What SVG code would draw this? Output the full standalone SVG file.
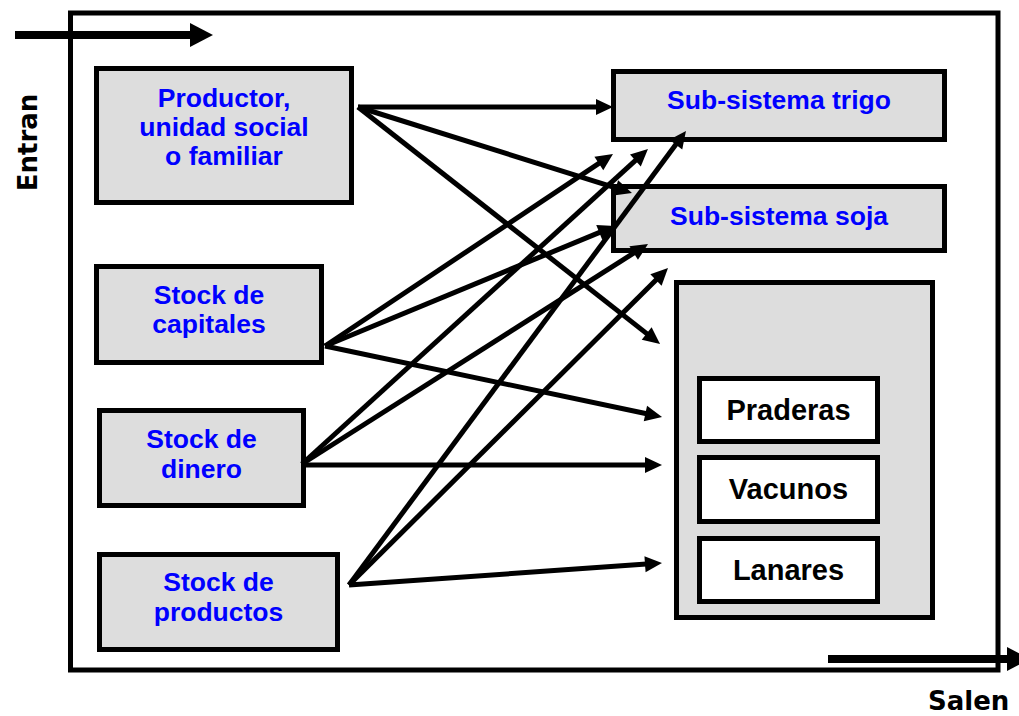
<svg xmlns="http://www.w3.org/2000/svg" width="1019" height="716" viewBox="0 0 1019 716">
  <style>
    .box { fill: #dddddd; stroke: #000; stroke-width: 5; }
    .inner { fill: #ffffff; stroke: #000; stroke-width: 5; }
    .blue { font-family: "Liberation Sans", Arial, sans-serif; font-weight: bold; font-size: 26.5px; fill: #0000ff; text-anchor: middle; }
    .black { font-family: "Liberation Sans", Arial, sans-serif; font-weight: bold; font-size: 29px; fill: #000; text-anchor: middle; }
    .side { font-family: "DejaVu Sans", sans-serif; font-weight: bold; font-size: 26px; fill: #000; }
    .conn { stroke: #000; stroke-width: 5; fill: none; marker-end: url(#head); }
    .flow { stroke: #000; stroke-width: 8; fill: none; }
  </style>
  <defs>
    <marker id="head" markerUnits="userSpaceOnUse" markerWidth="18" markerHeight="16" refX="5" refY="8" orient="auto" overflow="visible">
      <path d="M0,0 L17,8 L0,16 z" fill="#000"/>
    </marker>
  </defs>

  <rect width="1019" height="716" fill="#ffffff"/>

  <!-- system boundary -->
  <rect id="frame" x="70.5" y="13" width="927.5" height="657" fill="none" stroke="#000" stroke-width="5"/>

  <!-- inputs and outputs -->
  <g id="entran">
    <line class="flow" x1="15" y1="35" x2="192" y2="35"/>
    <polygon points="190,23 213,35 190,47" fill="#000"/>
    <text class="side" transform="translate(37,142.5) rotate(-90)" text-anchor="middle">Entran</text>
  </g>
  <g id="salen">
    <line class="flow" x1="828" y1="659" x2="1009" y2="659"/>
    <polygon points="1007,647 1030,659 1007,671" fill="#000"/>
    <text class="side" x="928" y="710">Salen</text>
  </g>

  <!-- sources -->
  <g id="productor">
    <rect class="box" x="96.5" y="68.5" width="255" height="134"/>
    <text class="blue" x="224" y="107">Productor,</text>
    <text class="blue" x="224" y="136">unidad social</text>
    <text class="blue" x="224" y="165">o familiar</text>
  </g>
  <g id="capitales">
    <rect class="box" x="96.5" y="266.5" width="225" height="96"/>
    <text class="blue" x="209" y="304">Stock de</text>
    <text class="blue" x="209" y="333">capitales</text>
  </g>
  <g id="dinero">
    <rect class="box" x="99.5" y="410.5" width="204" height="95"/>
    <text class="blue" x="201.5" y="448">Stock de</text>
    <text class="blue" x="201.5" y="478">dinero</text>
  </g>
  <g id="productos">
    <rect class="box" x="99.5" y="554.5" width="238" height="95"/>
    <text class="blue" x="218.5" y="591">Stock de</text>
    <text class="blue" x="218.5" y="621">productos</text>
  </g>

  <!-- sub-systems -->
  <g id="trigo">
    <rect class="box" x="613.5" y="71.5" width="331" height="68"/>
    <text class="blue" x="779" y="109">Sub-sistema trigo</text>
  </g>
  <g id="soja">
    <rect class="box" x="613.5" y="186.5" width="331" height="64"/>
    <text class="blue" x="779" y="225">Sub-sistema soja</text>
  </g>
  <g id="ganaderia">
    <rect class="box" x="676.5" y="282.5" width="256" height="335"/>
    <g id="praderas">
      <rect class="inner" x="699.5" y="378.5" width="178" height="63"/>
      <text class="black" x="788.5" y="420">Praderas</text>
    </g>
    <g id="vacunos">
      <rect class="inner" x="699.5" y="457.5" width="178" height="64"/>
      <text class="black" x="788.5" y="499">Vacunos</text>
    </g>
    <g id="lanares">
      <rect class="inner" x="699.5" y="538.5" width="178" height="63"/>
      <text class="black" x="788.5" y="580">Lanares</text>
    </g>
  </g>

  <!-- flows between stocks and sub-systems -->
  <g id="connectors">
    <line class="conn" x1="358" y1="107" x2="601" y2="107"/>
    <line class="conn" x1="358" y1="107" x2="620.5" y2="189.4"/>
    <line class="conn" x1="358" y1="107" x2="650.6" y2="336.6"/>

    <line class="conn" x1="325" y1="346" x2="603" y2="160.7"/>
    <line class="conn" x1="325" y1="346" x2="603.9" y2="230.6"/>
    <line class="conn" x1="325" y1="346" x2="650.3" y2="414.5"/>

    <line class="conn" x1="302" y1="464" x2="639.1" y2="157.1"/>
    <line class="conn" x1="302" y1="464" x2="637.9" y2="250.4"/>
    <line class="conn" x1="302" y1="465" x2="650" y2="465"/>

    <line class="conn" x1="349" y1="585" x2="678.8" y2="140.6"/>
    <line class="conn" x1="349" y1="585" x2="659.5" y2="276.5"/>
    <line class="conn" x1="349" y1="585" x2="650" y2="563.8"/>
  </g>
</svg>
